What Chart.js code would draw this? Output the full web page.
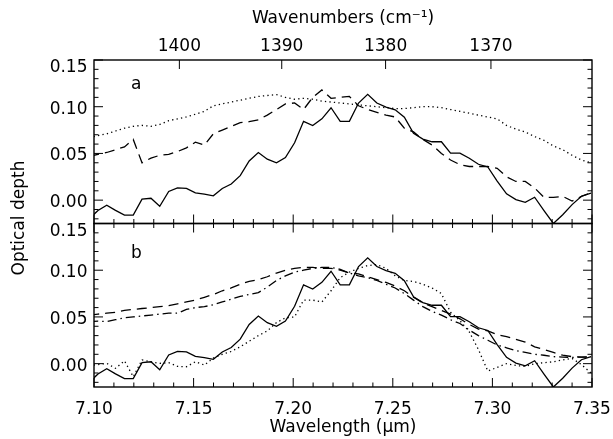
<!DOCTYPE html>
<html><head><meta charset="utf-8">
<script src="https://cdn.jsdelivr.net/npm/chart.js@4"></script>
<style>html,body{margin:0;padding:0;background:#fff;}canvas{display:block;}</style>
</head><body>
<canvas id="c" width="613" height="439"></canvas>
<script>
// ---- data ----
const wavelength = [7.0976, 7.1020, 7.1064, 7.1108, 7.1153, 7.1197, 7.1241, 7.1286, 7.1330, 7.1375,
  7.1419, 7.1464, 7.1509, 7.1554, 7.1599, 7.1644, 7.1689, 7.1734, 7.1779, 7.1825,
  7.1870, 7.1916, 7.1961, 7.2007, 7.2052, 7.2098, 7.2144, 7.2190, 7.2236, 7.2282,
  7.2328, 7.2374, 7.2420, 7.2466, 7.2512, 7.2558, 7.2604, 7.2651, 7.2697, 7.2744,
  7.2790, 7.2837, 7.2884, 7.2930, 7.2977, 7.3024, 7.3071, 7.3118, 7.3165, 7.3212,
  7.3259, 7.3306, 7.3353, 7.3400, 7.3447, 7.3495];

const observed = [-0.020, -0.011, -0.0055, -0.011, -0.016, -0.016, 0.001, 0.002, -0.0066, 0.0093,
  0.0132, 0.0125, 0.0078, 0.0064, 0.0046, 0.0125, 0.0172, 0.0262, 0.042, 0.051,
  0.0438, 0.040, 0.0456, 0.0614, 0.0844, 0.0798, 0.087, 0.0989, 0.0844, 0.0844,
  0.1039, 0.1133, 0.1039, 0.0996, 0.0967, 0.0888, 0.0715, 0.0654, 0.0625, 0.0625,
  0.0503, 0.0503, 0.0449, 0.0384, 0.0355, 0.0204, 0.0067, 0.0006, -0.0023, 0.0031,
  -0.0112, -0.025, -0.0156, -0.0048, 0.0042, 0.0075];

const panelA_dashed = [0.047, 0.049, 0.051, 0.054, 0.057, 0.065, 0.040, 0.045, 0.048, 0.049,
  0.052, 0.056, 0.062, 0.059, 0.071, 0.075, 0.079, 0.083, 0.084, 0.086,
  0.091, 0.097, 0.103, 0.104, 0.097, 0.110, 0.118, 0.109, 0.110, 0.111,
  0.101, 0.097, 0.094, 0.091, 0.089, 0.077, 0.073, 0.065, 0.059, 0.050,
  0.043, 0.038, 0.036, 0.036, 0.036, 0.034, 0.025, 0.020, 0.020, 0.013,
  0.003, 0.003, 0.004, -0.001, 0.004, 0.008];

const panelA_dotted = [0.067, 0.069, 0.071, 0.074, 0.077, 0.079, 0.080, 0.079, 0.081, 0.085,
  0.087, 0.089, 0.092, 0.095, 0.101, 0.103, 0.105, 0.107, 0.109, 0.111,
  0.112, 0.113, 0.110, 0.108, 0.109, 0.108, 0.106, 0.105, 0.104, 0.103,
  0.102, 0.101, 0.100, 0.099, 0.098, 0.098, 0.099, 0.100, 0.100, 0.099,
  0.097, 0.095, 0.093, 0.091, 0.089, 0.087, 0.080, 0.076, 0.073, 0.068,
  0.064, 0.058, 0.054, 0.048, 0.043, 0.040];

const panelB_dashed = [0.052, 0.053, 0.054, 0.055, 0.057, 0.058, 0.059, 0.060, 0.061, 0.062,
  0.064, 0.066, 0.068, 0.071, 0.074, 0.078, 0.081, 0.085, 0.088, 0.090,
  0.093, 0.097, 0.100, 0.102, 0.103, 0.103, 0.102, 0.102, 0.100, 0.097,
  0.096, 0.093, 0.090, 0.087, 0.083, 0.078, 0.071, 0.065, 0.061, 0.057,
  0.053, 0.048, 0.042, 0.037, 0.035, 0.031, 0.029, 0.026, 0.023, 0.018,
  0.015, 0.012, 0.009, 0.0075, 0.007, 0.007];

const panelB_dashdot = [0.045, 0.0455, 0.045, 0.047, 0.049, 0.050, 0.051, 0.052, 0.053, 0.054,
  0.054, 0.058, 0.060, 0.061, 0.063, 0.066, 0.069, 0.072, 0.074, 0.076,
  0.082, 0.089, 0.094, 0.098, 0.100, 0.102, 0.103, 0.103, 0.101, 0.097,
  0.094, 0.092, 0.089, 0.085, 0.081, 0.075, 0.068, 0.061, 0.056, 0.052,
  0.047, 0.043, 0.036, 0.030, 0.025, 0.020, 0.017, 0.014, 0.012, 0.010,
  0.009, 0.0075, 0.007, 0.0067, 0.007, 0.0073];

const panelB_dotted = [-0.002, -0.001, 0.0003, -0.005, 0.003, -0.014, 0.004, 0.002, 0.0003, 0.001,
  -0.003, -0.0033, 0.002, -0.0015, 0.006, 0.010, 0.013, 0.018, 0.024, 0.030,
  0.035, 0.044, 0.049, 0.050, 0.068, 0.068, 0.066, 0.078, 0.092, 0.098,
  0.102, 0.105, 0.106, 0.102, 0.094, 0.089, 0.088, 0.085, 0.081, 0.075,
  0.055, 0.046, 0.034, 0.015, -0.008, -0.004, 0.000, -0.002, -0.003, 0.000,
  0.001, 0.002, 0.004, 0.0056, -0.001, -0.010];

const yTickValues = [0.00, 0.05, 0.10, 0.15];
const xTickValues = [7.10, 7.15, 7.20, 7.25, 7.30, 7.35];
const wavenumberTicks = [1400, 1390, 1380, 1370];

// ---- chart ----
const FAM = "'DejaVu Sans', sans-serif";
const FONT = {family: FAM, size: 17};
const pts = arr => wavelength.map((w, i) => ({x: w, y: arr[i]}));
const line = (arr, yAxisID, dash) => ({
  data: pts(arr), yAxisID, xAxisID: 'x', borderColor: '#000', borderWidth: 1.3,
  borderDash: dash, pointRadius: 0, tension: 0, fill: false
});

const DOT = [1.3, 3.2], DASH = [10, 6], DASHDOT = [9, 4, 1.5, 4];

const framePlugin = {
  id: 'frame',
  beforeDatasetDraw(chart, args) {
    const ys = args.meta.yScale, a = chart.chartArea, ctx = chart.ctx;
    ctx.save(); ctx.beginPath();
    ctx.rect(a.left, ys.top, a.right - a.left, ys.bottom - ys.top);
    ctx.clip();
  },
  afterDatasetDraw(chart) { chart.ctx.restore(); },
  afterDraw(chart) {
    const ctx = chart.ctx, a = chart.chartArea;
    const x = chart.scales.x, yA = chart.scales.yA, yB = chart.scales.yB;
    const MAJ = 9, MIN = 4.5;
    ctx.save();
    ctx.strokeStyle = '#000';
    ctx.lineWidth = 1.4;
    [yA, yB].forEach(ys => ctx.strokeRect(a.left, ys.top, a.right - a.left, ys.bottom - ys.top));
    ctx.lineWidth = 1;
    const seg = (x1, y1, x2, y2) => { ctx.beginPath(); ctx.moveTo(x1, y1); ctx.lineTo(x2, y2); ctx.stroke(); };
    // y ticks (both sides, both panels) and y tick labels
    const yMinor = [];
    for (let i = -2; i <= 14; i++) if (i % 5 !== 0) yMinor.push(i / 100);
    ctx.fillStyle = '#000';
    ctx.font = '17px ' + FAM;
    ctx.textAlign = 'right'; ctx.textBaseline = 'middle';
    const yMax = yTickValues[yTickValues.length - 1];
    [yA, yB].forEach(ys => {
      yTickValues.forEach(v => {
        const p = ys.getPixelForValue(v);
        seg(a.left, p, a.left + MAJ, p); seg(a.right, p, a.right - MAJ, p);
        ctx.fillText(v.toFixed(2), a.left - 6.5, p + (v === yMax ? 8 : 2.5));
      });
      yMinor.forEach(v => { const p = ys.getPixelForValue(v); seg(a.left, p, a.left + MIN, p); seg(a.right, p, a.right - MIN, p); });
    });
    // x ticks on the panel edges that show wavelength
    const xMinor = [];
    for (let i = 1; i < 25; i++) if (i % 5 !== 0) xMinor.push(7.10 + i / 100);
    const edges = [[yB.bottom, -1], [yB.top, 1], [yA.bottom, -1]];
    edges.forEach(([yy, dir]) => {
      xTickValues.forEach(v => { const p = x.getPixelForValue(v); seg(p, yy, p, yy + dir * MAJ); });
      xMinor.forEach(v => { const p = x.getPixelForValue(v); seg(p, yy, p, yy + dir * MIN); });
    });
    // wavenumber ticks on the top edge
    wavenumberTicks.forEach(n => { const p = x.getPixelForValue(1e4 / n); seg(p, yA.top, p, yA.top + MAJ); });
    // panel letters and y title
    ctx.textAlign = 'left'; ctx.textBaseline = 'alphabetic';
    ctx.fillText('a', a.left + 37, yA.top + 28.5);
    ctx.fillText('b', a.left + 37, yB.top + 34);
    ctx.save();
    ctx.translate(20, 218);
    ctx.rotate(-Math.PI / 2);
    ctx.textAlign = 'center'; ctx.textBaseline = 'middle';
    ctx.fillText('Optical depth', 0, 0);
    ctx.restore();
    ctx.restore();
  }
};

const yScale = (weight) => ({
  type: 'linear', position: 'left', stack: 'panels', stackWeight: 1, weight,
  min: -0.025, max: 0.15,
  afterBuildTicks: s => { s.ticks = yTickValues.map(v => ({value: v})); },
  ticks: {display: false},
  grid: {display: false, drawTicks: false, tickLength: 0},
  border: {display: false},
  afterFit: s => { s.width = 94; s.paddingTop = 0; s.paddingBottom = 0; }
});

new Chart(document.getElementById('c'), {
  type: 'line',
  data: {datasets: [
    line(observed, 'yA', []),
    line(panelA_dashed, 'yA', DASH),
    line(panelA_dotted, 'yA', DOT),
    line(observed, 'yB', []),
    line(panelB_dashed, 'yB', DASH),
    line(panelB_dashdot, 'yB', DASHDOT),
    line(panelB_dotted, 'yB', DOT)
  ]},
  options: {
    responsive: false, animation: false, devicePixelRatio: 1,
    layout: {padding: {left: 0, right: 21, top: 0, bottom: 0}},
    plugins: {legend: {display: false}, tooltip: {enabled: false}},
    scales: {
      x: {
        type: 'linear', position: 'bottom', min: 7.10, max: 7.35,
        afterBuildTicks: s => { s.ticks = xTickValues.map(v => ({value: v})); },
        ticks: {callback: v => Number(v).toFixed(2), font: FONT, color: '#000', padding: 12, maxRotation: 0, autoSkip: false},
        grid: {display: false, drawTicks: false, tickLength: 0},
        border: {display: false},
        title: {display: true, text: 'Wavelength (μm)', font: FONT, color: '#000', padding: {top: 0, bottom: 1}},
        afterFit: s => { s.height = 52; s.paddingLeft = 0; s.paddingRight = 0; }
      },
      xTop: {
        type: 'linear', position: 'top', min: 7.10, max: 7.35,
        afterBuildTicks: s => { s.ticks = wavenumberTicks.map(n => ({value: 1e4 / n})); },
        ticks: {callback: v => String(Math.round(1e4 / v)), font: FONT, color: '#000', padding: 3, maxRotation: 0, autoSkip: false},
        grid: {display: false, drawTicks: false, tickLength: 0},
        border: {display: false},
        title: {display: true, text: 'Wavenumbers (cm⁻¹)', font: FONT, color: '#000', padding: {top: 8, bottom: 0}},
        afterFit: s => { s.height = 60; s.paddingLeft = 0; s.paddingRight = 0; }
      },
      yA: yScale(1),
      yB: yScale(0)
    }
  },
  plugins: [framePlugin]
});
</script>
</body></html>
